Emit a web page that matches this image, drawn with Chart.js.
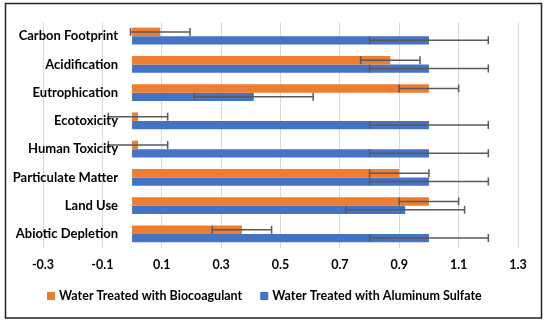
<!DOCTYPE html>
<html>
<head>
<meta charset="utf-8">
<script src="https://cdn.jsdelivr.net/npm/chart.js@4"></script>
<style>
  html, body { margin: 0; padding: 0; background: #fff; }
  #wrap { width: 550px; height: 325px; position: relative; }
</style>
</head>
<body>
<div id="wrap"><canvas id="c" width="550" height="325"></canvas></div>
<script>
const categories = ["Carbon Footprint", "Acidification", "Eutrophication", "Ecotoxicity",
  "Human Toxicity", "Particulate Matter", "Land Use", "Abiotic Depletion"];
const seriesNames = ["Water Treated with Biocoagulant", "Water Treated with Aluminum Sulfate"];
const biocoagulant = [0.095, 0.87, 1.0, 0.02, 0.02, 0.9, 1.0, 0.37];
const biocoagulantErr = [0.1, 0.1, 0.1, 0.1, 0.1, 0.1, 0.1, 0.1];
const aluminumSulfate = [1.0, 1.0, 0.41, 1.0, 1.0, 1.0, 0.92, 1.0];
const aluminumSulfateErr = [0.2, 0.2, 0.2, 0.2, 0.2, 0.2, 0.2, 0.2];
const xTicks = [-0.3, -0.1, 0.1, 0.3, 0.5, 0.7, 0.9, 1.1, 1.3];

const FONT = "Lato, 'Open Sans', sans-serif";

const frame = {
  id: 'frame',
  beforeDraw(chart) {
    const ctx = chart.ctx;
    ctx.save();
    ctx.fillStyle = '#fff';
    ctx.fillRect(0, 0, chart.width, chart.height);
    ctx.restore();
  },
  afterDraw(chart) {
    const ctx = chart.ctx;
    ctx.save();
    // category labels, right-aligned just left of the x=0 axis
    const xs = chart.scales.x, ys = chart.scales.y;
    const x0 = xs.getPixelForValue(0) - 14;
    ctx.fillStyle = '#000';
    ctx.font = "bold 13px " + FONT;
    ctx.textAlign = 'right';
    ctx.textBaseline = 'middle';
    chart.data.labels.forEach((lab, i) => {
      ctx.fillText(lab, x0, ys.getPixelForValue(i));
    });
    // legend
    ctx.font = "bold 12.5px " + FONT;
    ctx.textAlign = 'left';
    let x = 47;
    const yc = 296;
    chart.data.datasets.forEach((ds) => {
      ctx.fillStyle = ds.backgroundColor;
      ctx.fillRect(x, yc - 4, 8, 8);
      x += 12;
      ctx.fillStyle = '#000';
      ctx.fillText(ds.label, x, yc);
      x += ctx.measureText(ds.label).width + 18;
    });
    // frame
    ctx.strokeStyle = '#222';
    ctx.lineWidth = 1.5;
    ctx.strokeRect(5.5, 3.5, 536, 314.5);
    ctx.restore();
  }
};

const errorBars = {
  id: 'errorBars',
  afterDatasetsDraw(chart) {
    const ctx = chart.ctx;
    const xs = chart.scales.x;
    ctx.save();
    ctx.strokeStyle = '#595959';
    ctx.lineWidth = 1.5;
    chart.data.datasets.forEach((ds, di) => {
      const meta = chart.getDatasetMeta(di);
      meta.data.forEach((bar, i) => {
        const v = ds.data[i], e = ds.errors[i];
        const x1 = xs.getPixelForValue(v - e), x2 = xs.getPixelForValue(v + e);
        const y = bar.y, h = 4;
        ctx.beginPath();
        ctx.moveTo(x1, y); ctx.lineTo(x2, y);
        ctx.moveTo(x1, y - h); ctx.lineTo(x1, y + h);
        ctx.moveTo(x2, y - h); ctx.lineTo(x2, y + h);
        ctx.stroke();
      });
    });
    ctx.restore();
  }
};

new Chart(document.getElementById('c'), {
  type: 'bar',
  data: {
    labels: categories,
    datasets: [
      { label: seriesNames[0], data: biocoagulant, errors: biocoagulantErr,
        backgroundColor: '#ED7D31', borderWidth: 0 },
      { label: seriesNames[1], data: aluminumSulfate, errors: aluminumSulfateErr,
        backgroundColor: '#4472C4', borderWidth: 0 }
    ]
  },
  options: {
    indexAxis: 'y',
    responsive: false,
    animation: false,
    devicePixelRatio: 1,
    categoryPercentage: 0.6,
    barPercentage: 1.0,
    layout: { padding: { left: 43, right: 32, top: 22, bottom: 44 } },
    scales: {
      x: {
        type: 'linear',
        min: -0.3, max: 1.3,
        afterBuildTicks(scale) { scale.ticks = xTicks.map(v => ({ value: v })); },
        grid: { color: '#d9d9d9', lineWidth: 1, drawTicks: false },
        border: { display: false },
        ticks: {
          color: '#000', padding: 9,
          font: { family: FONT, size: 12.5, weight: 'bold' },
          callback: v => (Math.round(v * 10) / 10).toFixed(1)
        }
      },
      y: {
        position: { x: 0 },
        grid: { display: false, drawTicks: false },
        border: { display: false },
        ticks: { display: false }
      }
    },
    plugins: {
      legend: { display: false },
      tooltip: { enabled: false }
    }
  },
  plugins: [frame, errorBars]
});
</script>
</body>
</html>
